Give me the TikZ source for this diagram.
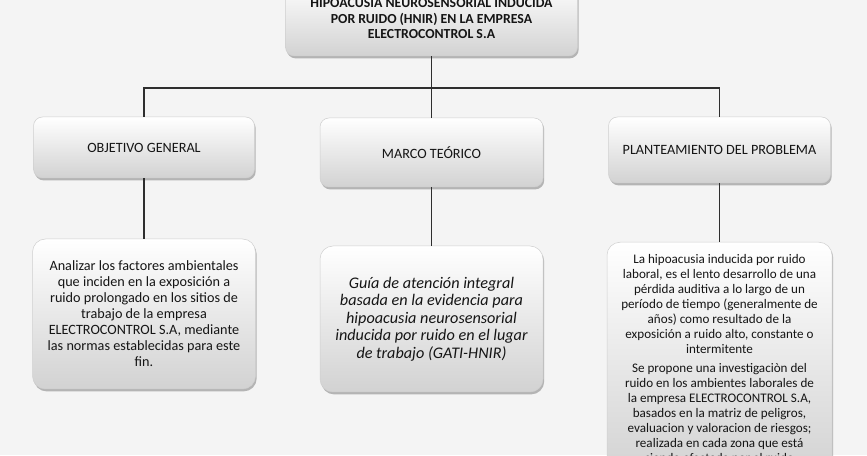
\documentclass[tikz,border=0pt]{standalone}
\usepackage{fontspec}
\setmainfont{Carlito}
\usepackage{xcolor}
\usepackage{tikz}
\usetikzlibrary{calc,positioning,shadows}
\definecolor{PageGray}{HTML}{F4F4F4}
\definecolor{BoxTop}{HTML}{FFFFFF}
\definecolor{BoxBottom}{HTML}{D2D2D2}
\definecolor{BoxEdge}{HTML}{CFCFCF}
\definecolor{LinkDark}{HTML}{2E2E2E}
\definecolor{InkText}{HTML}{151515}
\tikzset{
    mapbox/.style={
        rounded corners=9pt,
        top color=BoxTop,
        bottom color=BoxBottom,
        draw=BoxEdge,
        line width=0.5pt,
        text=InkText,
        align=center,
        inner sep=0pt,
        drop shadow={opacity=0.55, shadow xshift=1.2pt, shadow yshift=-2.4pt}
    },
    link/.style={draw=LinkDark, line width=1.4pt}
}

\begin{document}
\begin{tikzpicture}[x=1pt, y=1pt]
        \useasboundingbox (0,0) rectangle (867,455);
        \fill[PageGray] (0,0) rectangle (867,455);
        \clip (0,0) rectangle (867,455);

        \node[mapbox, minimum width=292pt, minimum height=74pt,
              font=\fontsize{13.8}{15.5}\selectfont\bfseries] (tema) at (431.5,436)
            {HIPOACUSIA NEUROSENSORIAL INDUCIDA\\POR RUIDO (HNIR) EN LA EMPRESA\\ELECTROCONTROL S.A};

        \node[mapbox, minimum width=221pt, minimum height=61pt,
              font=\fontsize{14.2}{16}\selectfont] (objetivo) at (144,307.5) {OBJETIVO GENERAL};
        \node[mapbox, minimum width=223pt, minimum height=69pt,
              font=\fontsize{14.2}{16}\selectfont] (marco) at (431.5,302.5) {MARCO TEÓRICO};
        \node[mapbox, minimum width=222pt, minimum height=66pt,
              font=\fontsize{14.2}{16}\selectfont] (plantea) at (719.5,305) {PLANTEAMIENTO DEL PROBLEMA};

        \node[mapbox, rounded corners=13pt, minimum width=223pt, minimum height=150pt,
              font=\fontsize{14.2}{16}\selectfont] (objetivotxt) at (144,141)
            {Analizar los factores ambientales\\que inciden en la exposición a\\ruido prolongado en los sitios de\\trabajo de la empresa\\ELECTROCONTROL S.A, mediante\\las normas establecidas para este\\fin.};
        \node[mapbox, rounded corners=13pt, minimum width=223pt, minimum height=146pt,
              font=\fontsize{16.2}{17.5}\selectfont\itshape] (marcotxt) at (431.5,136)
            {Guía de atención integral\\basada en la evidencia para\\hipoacusia neurosensorial\\inducida por ruido en el lugar\\de trabajo (GATI-HNIR)};
        \node[mapbox, rounded corners=13pt, anchor=north, minimum width=225pt, inner ysep=12pt,
              font=\fontsize{13.1}{15}\selectfont] (planteatxt) at (719.5,213)
            {La hipoacusia inducida por ruido\\laboral, es el lento desarrollo de una\\pérdida auditiva a lo largo de un\\período de tiempo (generalmente de\\años) como resultado de la\\exposición a ruido alto, constante o\\intermitente\\[4pt]Se propone una investigaciòn del\\ruido en los ambientes laborales de\\la empresa ELECTROCONTROL S.A,\\basados en la matriz de peligros,\\evaluacion y valoracion de riesgos;\\realizada en cada zona que está\\siendo afectada por el ruido};

        % conectores
        \coordinate (reparto) at (431.5,367);
        \draw[link] (tema.south) -- (reparto);
        \draw[link] (objetivo.north) |- (reparto) -| (plantea.north);
        \draw[link] (reparto) -- (marco.north);
        \draw[link] (objetivo.south) -- (objetivotxt.north);
        \draw[link] (marco.south) -- (marcotxt.north);
        \draw[link] (plantea.south) -- (planteatxt.north);
    \end{tikzpicture}
\end{document}
